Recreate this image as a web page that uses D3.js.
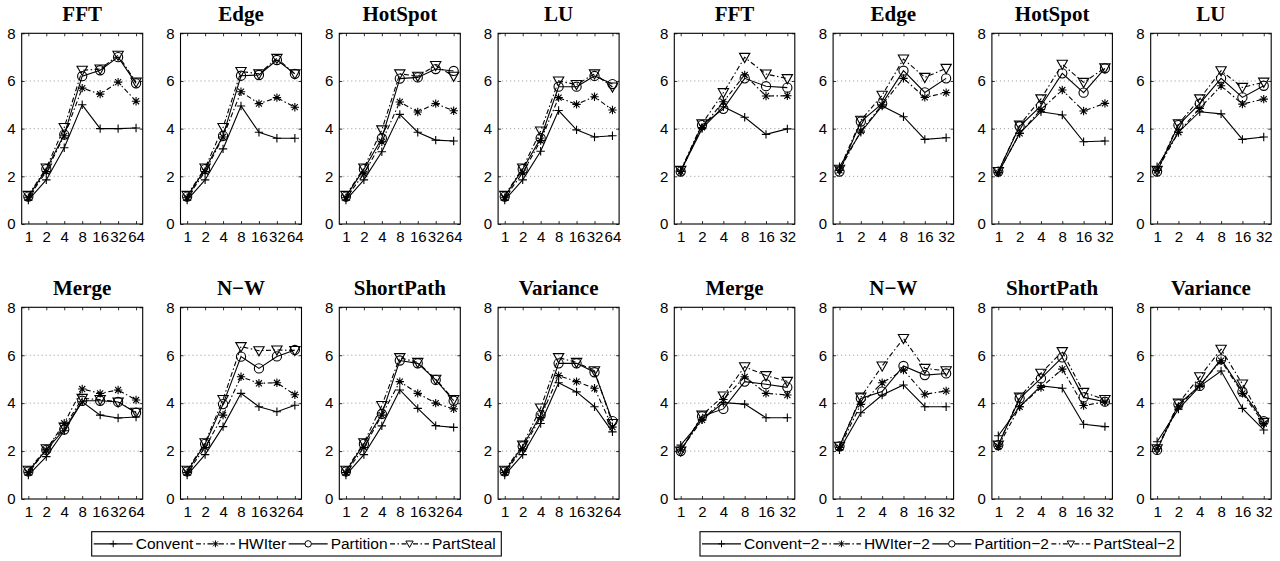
<!DOCTYPE html>
<html><head><meta charset="utf-8">
<script src="https://cdn.jsdelivr.net/npm/d3@7"></script>
<style>body{margin:0;background:#fff}svg{display:block}</style></head>
<body>
<svg id="chart" width="1280" height="561"></svg>
<script>
// ---------- data ----------
const benchmarks = ["FFT","Edge","HotSpot","LU","Merge","N\u2212W","ShortPath","Variance"];
const xLabelsA = ["1","2","4","8","16","32","64"];
const xLabelsB = ["1","2","4","8","16","32"];
const yTicks = [0,2,4,6,8];
const seriesNamesA = ["Convent","HWIter","Partition","PartSteal"];
const seriesNamesB = ["Convent\u22122","HWIter\u22122","Partition\u22122","PartSteal\u22122"];

// Group A (1..64), one row per benchmark
const conventA = [
  [1.0,1.85,3.2,5.0,4.0,4.0,4.03],
  [1.0,1.85,3.15,4.95,3.85,3.6,3.6],
  [1.0,1.85,3.03,4.6,3.85,3.52,3.48],
  [1.0,1.85,3.05,4.76,3.95,3.65,3.7],
  [1.0,1.77,2.85,4.06,3.5,3.38,3.42],
  [1.0,1.85,3.02,4.41,3.85,3.64,3.91],
  [1.0,1.85,3.05,4.55,3.78,3.06,2.99],
  [1.0,1.85,3.15,4.85,4.47,3.85,2.8]
];
const hwiterA = [
  [1.1,2.2,3.7,5.7,5.45,5.95,5.15],
  [1.1,2.2,3.65,5.55,5.05,5.3,4.9],
  [1.1,2.1,3.45,5.12,4.7,5.05,4.75],
  [1.1,2.15,3.5,5.3,5.02,5.34,4.78],
  [1.1,2.05,3.16,4.59,4.41,4.55,4.13],
  [1.1,2.15,3.5,5.1,4.83,4.85,4.35],
  [1.1,2.15,3.5,4.9,4.41,4.0,3.76],
  [1.1,2.1,3.4,5.15,4.9,4.62,3.0]
];
const partitionA = [
  [1.15,2.3,3.75,6.2,6.45,7.0,5.9],
  [1.15,2.3,3.7,6.22,6.25,6.88,6.3],
  [1.15,2.3,3.6,6.1,6.15,6.5,6.42],
  [1.15,2.3,3.6,5.76,5.76,6.21,5.87],
  [1.15,2.05,2.9,4.1,4.1,4.05,3.6],
  [1.15,2.3,3.96,5.94,5.45,5.95,6.22],
  [1.15,2.3,3.55,5.78,5.66,4.97,4.1],
  [1.15,2.2,3.5,5.66,5.66,5.29,3.25]
];
const partstealA = [
  [1.2,2.35,4.05,6.45,6.5,7.08,5.95],
  [1.2,2.35,4.05,6.4,6.3,6.95,6.3],
  [1.2,2.35,3.95,6.3,6.2,6.65,6.2],
  [1.2,2.35,3.9,6.0,5.85,6.3,5.75],
  [1.2,2.1,3.0,4.2,4.15,4.05,3.62],
  [1.2,2.35,4.15,6.36,6.19,6.22,6.2],
  [1.2,2.35,3.9,5.9,5.7,5.0,4.15],
  [1.2,2.25,3.8,5.9,5.7,5.35,3.15]
];
// Group B (1..32)
const conventB = [
  [2.22,4.0,4.92,4.48,3.76,3.99],
  [2.4,3.85,4.95,4.5,3.55,3.62],
  [2.15,3.8,4.71,4.57,3.45,3.48],
  [2.4,3.85,4.71,4.62,3.55,3.65],
  [2.25,3.3,4.02,3.96,3.39,3.39],
  [2.05,3.6,4.34,4.76,3.85,3.85],
  [2.64,3.85,4.72,4.62,3.12,3.02],
  [2.39,3.75,4.7,5.34,3.78,2.88]
];
const hwiterB = [
  [2.2,4.05,5.13,6.25,5.37,5.38],
  [2.25,3.9,5.0,6.11,5.31,5.51],
  [2.15,3.8,4.8,5.62,4.74,5.06],
  [2.25,3.85,4.85,5.8,5.03,5.24],
  [2.05,3.3,4.15,5.1,4.41,4.34],
  [2.15,3.95,4.85,5.38,4.37,4.51],
  [2.2,3.85,4.65,5.42,3.9,4.05],
  [2.1,3.85,4.75,5.77,4.41,3.15]
];
const partitionB = [
  [2.2,4.15,4.83,6.11,5.78,5.72],
  [2.2,4.3,5.05,6.43,5.52,6.11],
  [2.2,4.1,4.95,6.32,5.51,6.53],
  [2.2,4.15,5.05,6.11,5.31,5.8],
  [2.0,3.45,3.76,4.9,4.79,4.66],
  [2.2,4.2,4.48,5.55,5.17,5.24],
  [2.25,4.2,5.03,5.91,4.24,4.06],
  [2.05,3.95,4.72,5.83,4.48,3.25]
];
const partstealB = [
  [2.25,4.2,5.51,6.99,6.29,6.1],
  [2.3,4.35,5.4,6.92,6.15,6.53],
  [2.2,4.15,5.25,6.7,5.94,6.55],
  [2.25,4.2,5.25,6.43,5.73,5.95],
  [2.0,3.5,4.3,5.52,5.15,4.91],
  [2.2,4.25,5.55,6.7,5.45,5.35],
  [2.25,4.25,5.25,6.15,4.45,4.15],
  [2.1,4.0,5.1,6.25,4.8,3.2]
];

// ---------- styles ----------
const markers = ["plus","star","circle","tri"];
const dashes = [null,"5,2.5,1.5,2.5",null,"5,2.5,1.5,2.5"];

function markerPath(type, s){
  if(type==="plus") return `M${-s},0H${s}M0,${-s}V${s}`;
  if(type==="star"){const d=s*0.72;return `M${-s},0H${s}M0,${-s}V${s}M${-d},${-d}L${d},${d}M${-d},${d}L${d},${-d}`;}
  if(type==="circle") return `M${s},0A${s},${s} 0 1,1 ${-s},0A${s},${s} 0 1,1 ${s},0Z`;
  if(type==="tri") return `M${-s*1.1},${-s*0.85}L${s*1.1},${-s*0.85}L0,${s*1.1}Z`;
}
const markerSize = {plus:4.2, star:4.2, circle:4.6, tri:4.7};

const svg = d3.select("#chart");
const groups = [
  {x0:21.7, w:121, labels:xLabelsA, dom:[-0.37,6.37], data:[conventA,hwiterA,partitionA,partstealA]},
  {x0:674.3, w:120.5, labels:xLabelsB, dom:[-0.3,5.35], data:[conventB,hwiterB,partitionB,partstealB]}
];
const pitch = 158.8;
const rows = [{top:33.3,bottom:224},{top:307.3,bottom:499}];

groups.forEach(g=>{
  benchmarks.forEach((name,bi)=>{
    const col = bi%4, row = Math.floor(bi/4);
    const left = g.x0 + col*pitch, right = left + g.w;
    const {top,bottom} = rows[row];
    const x = d3.scaleLinear().domain(g.dom).range([left,right]);
    const y = d3.scaleLinear().domain([0,8]).range([bottom,top]);
    const p = svg.append("g");
    // grid
    p.selectAll("line.grid").data([2,4,6]).join("line")
      .attr("x1",left).attr("x2",right).attr("y1",d=>y(d)).attr("y2",d=>y(d))
      .attr("stroke","#888").attr("stroke-width",0.9).attr("stroke-dasharray","1,3");
    // axes
    const idx = g.labels.map((d,i)=>i);
    const xb = d3.axisBottom(x).tickValues(idx).tickFormat(i=>g.labels[i]).tickSizeInner(-3).tickSizeOuter(0).tickPadding(7);
    const ax = p.append("g").attr("transform",`translate(0,${bottom})`).call(xb);
    const xt = d3.axisTop(x).tickValues(idx).tickFormat("").tickSizeInner(-3).tickSizeOuter(0);
    const axT = p.append("g").attr("transform",`translate(0,${top})`).call(xt);
    const yl = d3.axisLeft(y).tickValues(yTicks).tickSizeInner(-3).tickSizeOuter(0).tickPadding(6);
    const ayl = p.append("g").attr("transform",`translate(${left},0)`).call(yl);
    const yr = d3.axisRight(y).tickValues(yTicks).tickFormat("").tickSizeInner(-3).tickSizeOuter(0);
    const ayr = p.append("g").attr("transform",`translate(${right},0)`).call(yr);
    [ax,axT,ayl,ayr].forEach(a=>{
      a.select(".domain").remove();
      a.selectAll("line").attr("stroke","#000").attr("stroke-width",0.8);
      a.selectAll("text").attr("font-family","Liberation Sans, Arial, sans-serif").attr("font-size",15).attr("fill","#000");
    });
    ax.selectAll("text").attr("dy","0.71em").attr("y",7);
    // box
    p.append("rect").attr("x",left).attr("y",top).attr("width",right-left).attr("height",bottom-top)
      .attr("fill","none").attr("stroke","#000").attr("stroke-width",1.1);
    // title
    p.append("text").attr("x",(left+right)/2).attr("y",top-12.5).attr("text-anchor","middle")
      .attr("font-family","Liberation Serif, Times New Roman, serif").attr("font-weight","bold")
      .attr("font-size",21).text(name);
    // series
    const line = d3.line().x((d,i)=>x(i)).y(d=>y(d));
    g.data.forEach((ser,si)=>{
      const vals = ser[bi];
      p.append("path").attr("d",line(vals)).attr("fill","none").attr("stroke","#000")
        .attr("stroke-width",1.1).attr("stroke-dasharray",dashes[si]);
      p.selectAll(null).data(vals).join("path")
        .attr("transform",(d,i)=>`translate(${x(i)},${y(d)})`)
        .attr("d",markerPath(markers[si],markerSize[markers[si]]))
        .attr("fill","none").attr("stroke","#000").attr("stroke-width",1.1);
    });
  });
});

// ---------- legends ----------
function legend(names, x0, yTop, h){
  const lg = svg.append("g");
  const yc = yTop + h/2;
  let cx = x0 + 2;
  const lineLen = 39;
  names.forEach((n,i)=>{
    lg.append("line").attr("x1",cx).attr("x2",cx+lineLen).attr("y1",yc).attr("y2",yc)
      .attr("stroke","#000").attr("stroke-width",1.1).attr("stroke-dasharray",dashes[i]);
    const m = markers[i];
    lg.append("path").attr("transform",`translate(${cx+lineLen/2},${yc})`)
      .attr("d",markerPath(m, m==="circle"?3.2:(m==="tri"?3.3:3.4)))
      .attr("fill", "#fff").attr("stroke","#000").attr("stroke-width",1);
    const t = lg.append("text").attr("x",cx+lineLen+3).attr("y",yc+5.5)
      .attr("font-family","Liberation Sans, Arial, sans-serif").attr("font-size",15.5).text(n);
    cx += lineLen + 3 + t.node().getComputedTextLength() + 2.5;
  });
  lg.insert("rect",":first-child").attr("x",x0).attr("y",yTop).attr("width",cx - x0 + 3).attr("height",h)
    .attr("fill","#fff").attr("stroke","#000").attr("stroke-width",1.1);
}
legend(seriesNamesA, 91.7, 531.7, 24.3);
legend(seriesNamesB, 700, 531.7, 24.3);
</script>
</body></html>
